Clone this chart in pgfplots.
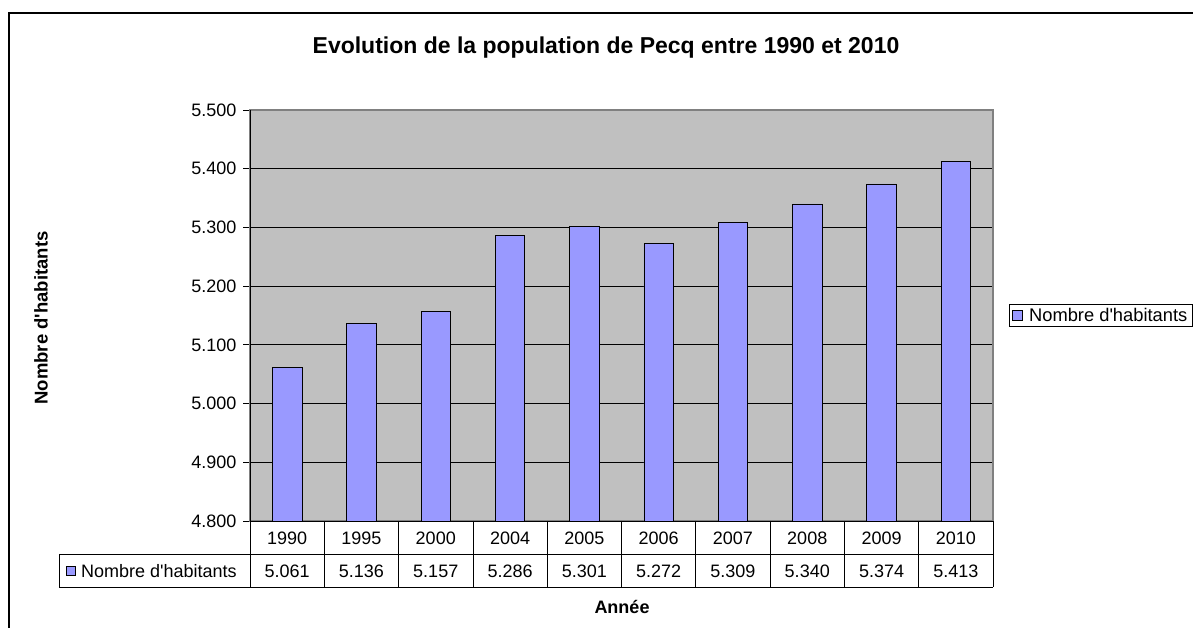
\documentclass[border=0pt]{standalone}
\usepackage{fontspec}
\setmainfont{Liberation Sans}[Ligatures=TeXOff]
\usepackage{pgfplots}
\pgfplotsset{compat=1.18}
\definecolor{barblue}{HTML}{9999FF}
\definecolor{plotgray}{HTML}{C0C0C0}
\definecolor{bordergray}{HTML}{808080}
\begin{document}
\begin{tikzpicture}[x=1pt,y=1pt]
\useasboundingbox (0,0) rectangle (1193,628);
\draw[line width=1.3pt] (9,-20) -- (9,615) -- (1220,615);
\node[font=\bfseries\fontsize{23}{27}\selectfont] at (606,580) {Evolution de la population de Pecq entre 1990 et 2010};
\node[font=\bfseries\fontsize{18.5}{21}\selectfont, rotate=90] at (41,310) {Nombre d'habitants};
\node[font=\bfseries\fontsize{18}{21}\selectfont] at (622,21) {Année};
\begin{axis}[
  at={(250pt,107pt)}, anchor=south west, scale only axis,
  width=743pt, height=411pt,
  xmin=-0.5, xmax=9.5, ymin=4800, ymax=5500,
  ytick={4800,4900,5000,5100,5200,5300,5400,5500},
  xtick=\empty,
  ytick pos=left, tick align=outside, major tick length=7pt,
  tick style={black, line width=0.8pt},
  ymajorgrids, major grid style={black, line width=0.8pt},
  axis background/.style={fill=plotgray},
  axis line style={draw=bordergray, line width=1.6pt},
  /pgf/number format/assume math mode=true,
  yticklabel style={font=\fontsize{18}{21}\selectfont, xshift=-3pt, /pgf/number format/fixed, /pgf/number format/1000 sep={.}},
  clip=false,
  legend style={at={(1.0215,0.5)}, anchor=west, draw=black, line width=0.8pt,
    font=\fontsize{18.3}{21}\selectfont, inner xsep=3pt, inner ysep=2pt},
  legend image code/.code={\draw[fill=barblue,draw=black,line width=0.8pt] (2pt,-5pt) rectangle (12pt,5pt);},
]
\addplot[ybar, bar width=29.5pt, fill=barblue, draw=black, line width=0.8pt]
  coordinates {(0,5061) (1,5136) (2,5157) (3,5286) (4,5301) (5,5272) (6,5309) (7,5340) (8,5374) (9,5413)};
\addlegendentry{\hspace{4pt}Nombre d'habitants}
\draw[black, line width=0.8pt] (axis cs:-0.5,4800) -- (axis cs:-0.5,5500);
\end{axis}
% data table
\begin{scope}[line width=0.8pt]
\draw (250,107) -- (993,107);
\draw (59,74) -- (993,74);
\draw (59,41) -- (993,41);
\draw (59,74) -- (59,41);
\foreach \i in {0,...,10} { \draw (250+\i*74.3,107) -- (250+\i*74.3,41); }
\end{scope}
\foreach \y [count=\i from 0] in {1990,1995,2000,2004,2005,2006,2007,2008,2009,2010}
  \node[font=\fontsize{18}{21}\selectfont] at (250+\i*74.3+37.15,90) {\y};
\foreach \v [count=\i from 0] in {5.061,5.136,5.157,5.286,5.301,5.272,5.309,5.340,5.374,5.413}
  \node[font=\fontsize{18}{21}\selectfont] at (250+\i*74.3+37.15,57) {\v};
\draw[fill=barblue, draw=black, line width=0.8pt] (66,53) rectangle (75,62);
\node[font=\fontsize{18}{21}\selectfont, anchor=west, inner sep=0pt] at (81,57) {Nombre d'habitants};
\end{tikzpicture}
\end{document}
